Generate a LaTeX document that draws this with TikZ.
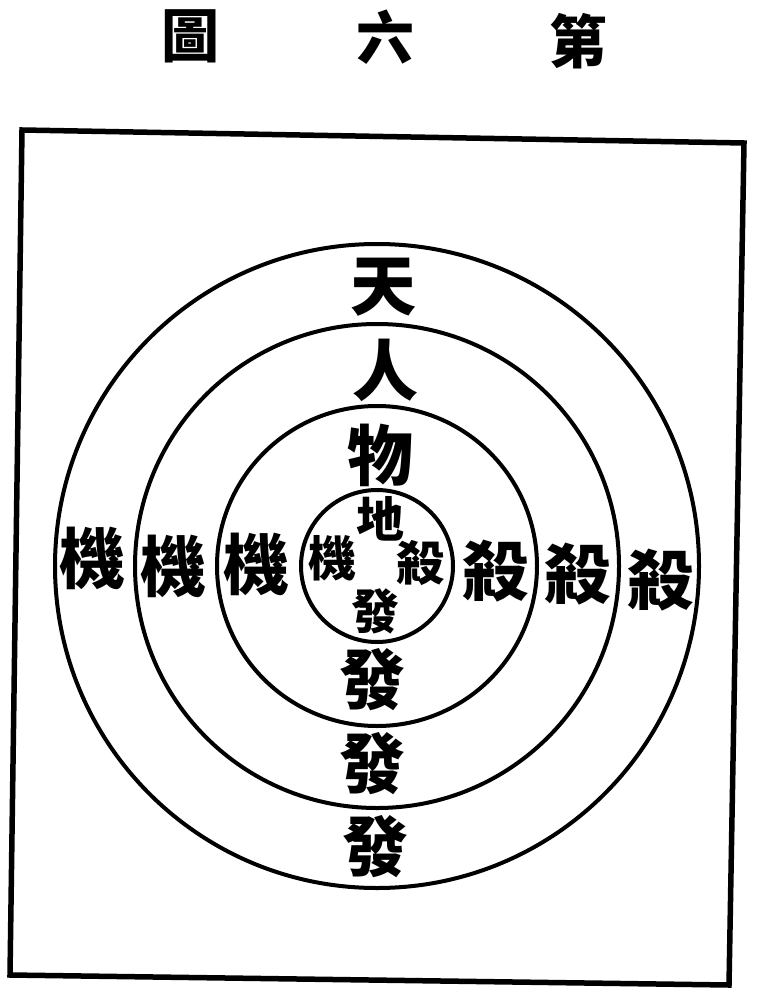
\documentclass[tikz,border=0pt]{standalone}
\usepackage{fontspec}
\newfontfamily\cjk{Noto Sans CJK TC}
\begin{document}
\begin{tikzpicture}[x=1pt,y=-1pt,
  ring/.style={draw=black,line width=4pt},
  frameline/.style={draw=black,line width=5.5pt,line join=miter},
  big/.style={inner sep=0pt,font=\cjk\bfseries\fontsize{66}{66}\selectfont},
  small/.style={inner sep=0pt,font=\cjk\bfseries\fontsize{48}{48}\selectfont},
  title/.style={inner sep=0pt,font=\cjk\bfseries\fontsize{58}{58}\selectfont}]
\useasboundingbox (0,0) rectangle (757,1000);
\fill[white] (0,0) rectangle (757,1000);
% title
\node[title] (t1) at (190,36) {圖};
\node[title] (t2) at (385,37) {六};
\node[title] (t3) at (578,41) {第};
% frame
\draw[frameline] (22,130) -- (744,143) -- (729,985) -- (10,975) -- cycle;
% circles
\coordinate (c) at (377,566);
\draw[ring] (c) circle[radius=322];
\draw[ring] (c) circle[radius=242];
\draw[ring] (c) circle[radius=160];
\draw[ring] (c) circle[radius=76];
% inner circle
\node[small] (di) at (380,519) {地};
\node[small] (ji0) at (332,558) {機};
\node[small] (sha0) at (420,563) {殺};
\node[small] (fa0) at (375,611) {發};
% third ring
\node[big] (wu) at (380,455) {物};
\node[big] (ji1) at (256,564) {機};
\node[big] (sha1) at (495,571) {殺};
\node[big] (fa1) at (372,680) {發};
% second ring
\node[big] (ren) at (385,370) {人};
\node[big] (ji2) at (173,566) {機};
\node[big] (sha2) at (577,574) {殺};
\node[big] (fa2) at (372,764) {發};
% outer ring
\node[big] (tian) at (383,287) {天};
\node[big] (ji3) at (92,558) {機};
\node[big] (sha3) at (660,580) {殺};
\node[big] (fa3) at (375,847) {發};
\end{tikzpicture}
\end{document}
